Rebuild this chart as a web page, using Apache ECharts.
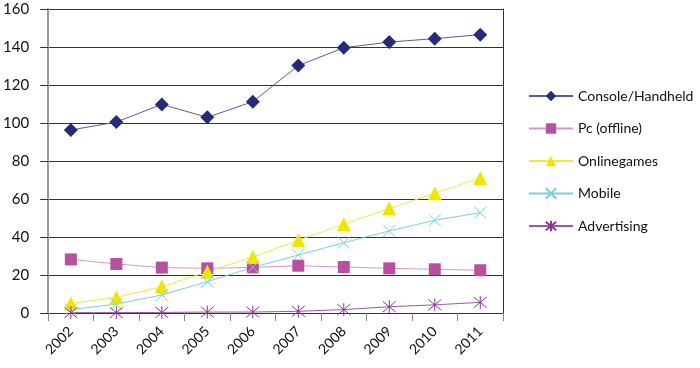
<!DOCTYPE html>
<html><head><meta charset="utf-8">
<script src="https://cdn.jsdelivr.net/npm/echarts@6/dist/echarts.min.js"></script>
<style>html,body{margin:0;padding:0;background:#fff}#c{width:700px;height:368px}</style>
</head><body><div id="c"></div>
<script>
const years = ['2002','2003','2004','2005','2006','2007','2008','2009','2010','2011'];
const yTicks = [0,20,40,60,80,100,120,140,160];
const consoleHandheld = [96.3,100.5,109.8,103,111.2,130.2,139.6,142.6,144.4,146.5];
const pcOffline = [28.2,25.8,23.9,23.5,24,24.9,24.2,23.5,23,22.5];
const onlinegames = [5,8.2,13.9,21.7,29.5,38.3,46.8,55,63,71];
const mobile = [1.8,4.7,9.5,16.5,24,30.5,37,43.2,48.8,52.8];
const advertising = [0.2,0.2,0.3,0.5,0.5,0.9,1.8,3.3,4.3,5.6];

const font = 'Lato, "Open Sans", sans-serif';
const xPath = 'path://M0,0L10,10M10,0L0,10';
const starPath = 'path://M0,0L10,10M10,0L0,10M5,-1L5,11M4.2,5L5.8,5';

function mk(name, data, color, lineColor, symbol, size, stroke) {
  return {
    name, type: 'line', data, symbol, symbolSize: size,
    lineStyle: { color: lineColor, width: 1 },
    itemStyle: stroke ? { color: color, borderColor: color, borderWidth: 1 } : { color: color, borderWidth: 0 },
    emphasis: { disabled: true }, animation: false, z: 3
  };
}

const chart = echarts.init(document.getElementById('c'));
chart.setOption({
  animation: false,
  grid: { left: 48, right: 197, top: 9, bottom: 55, containLabel: false },
  legend: {
    orient: 'vertical', left: 523, top: 84, itemGap: 18.5, itemWidth: 44, itemHeight: 13,
    textStyle: { fontFamily: font, fontSize: 14, color: '#111' },
    data: ['Console/Handheld','Pc (offline)','Onlinegames','Mobile','Advertising']
  },
  xAxis: {
    type: 'category', data: years, boundaryGap: true,
    axisLine: { lineStyle: { color: '#333', width: 1 } },
    axisTick: { show: true, length: 8, lineStyle: { color: '#888' } },
    axisLabel: { rotate: 45, fontFamily: font, fontSize: 14, color: '#111', margin: 16 }
  },
  yAxis: [{
    type: 'value', min: yTicks[0], max: yTicks[yTicks.length-1], interval: 20,
    axisLine: { show: true, lineStyle: { color: '#999', width: 2 } },
    axisTick: { show: true, length: 8, lineStyle: { color: '#333' } },
    splitLine: { show: true, lineStyle: { color: '#333', width: 1 } },
    axisLabel: { fontFamily: font, fontSize: 15, color: '#111', margin: 19 }
  }, {
    type: 'value', position: 'right', min: 0, max: 160, interval: 20,
    axisLine: { show: true, lineStyle: { color: '#333', width: 1 } },
    axisTick: { show: false }, axisLabel: { show: false }, splitLine: { show: false }
  }],
  series: [
    mk('Console/Handheld', consoleHandheld, '#262a78', '#5a5e98', 'diamond', 14, false),
    mk('Pc (offline)', pcOffline, '#b8509e', '#d996c6', 'rect', 12, false),
    mk('Onlinegames', onlinegames, '#f2e600', '#f0e845', 'triangle', 14, false),
    mk('Mobile', mobile, '#78cfe0', '#78cfe0', xPath, 12, true),
    mk('Advertising', advertising, '#8a3a90', '#9c5aa2', starPath, 13, true)
  ]
});
</script></body></html>
